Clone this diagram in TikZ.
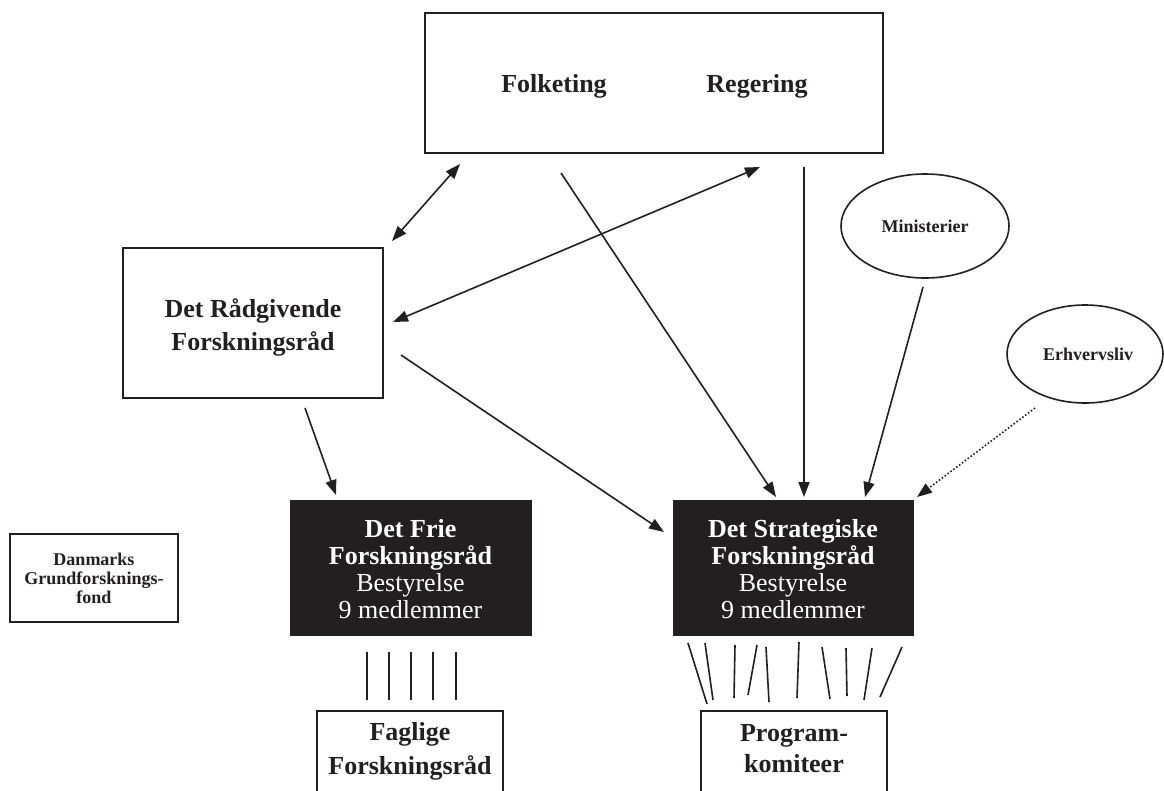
\documentclass[tikz,border=0pt]{standalone}
\usepackage{fontspec}
\setmainfont{Liberation Serif}
\usetikzlibrary{arrows.meta,shapes.geometric}
\definecolor{ink}{HTML}{231F20}
\begin{document}
\begin{tikzpicture}[x=1pt,y=-1pt,
  box/.style={draw=ink,line width=1.6pt,inner sep=0pt,rectangle},
  dark/.style={fill=ink,draw=ink,inner sep=0pt,rectangle},
  big/.style={font=\fontsize{26}{33}\selectfont\bfseries,text=ink,align=center,inner sep=0pt},
  small/.style={font=\fontsize{18}{19}\selectfont\bfseries,text=ink,align=center,inner sep=0pt},
  oval/.style={draw=ink,line width=1.6pt,ellipse,inner sep=0pt},
  arr/.style={draw=ink,line width=1.6pt,-{Triangle[length=15pt,width=11pt]}},
  darr/.style={draw=ink,line width=1.6pt,{Triangle[length=15pt,width=11pt]}-{Triangle[length=15pt,width=11pt]}},
  tick/.style={draw=ink,line width=1.6pt}
]
\useasboundingbox (0,0) rectangle (1164,790);
\clip (0,0) rectangle (1164,790);
\fill[white] (0,0) rectangle (1164,790);

% boxes
\node[box,minimum width=458pt,minimum height=140pt] (top) at (654,83) {};
\node[big] (folk) at (554,86) {Folketing};
\node[big] (reg) at (757,86) {Regering};

\node[box,minimum width=260pt,minimum height=150pt] (raad) at (253,323) {};
\node[big] at (253,327) {Det Rådgivende\\Forskningsråd};

\node[oval,minimum width=168pt,minimum height=104pt] (min) at (925,226) {};
\node[small] at (925,226) {Ministerier};
\node[oval,minimum width=156pt,minimum height=98pt] (erh) at (1085,354) {};
\node[small] at (1088,354) {Erhvervsliv};

\node[dark,minimum width=241pt,minimum height=135pt] (frie) at (410.5,567.5) {};
\node[big,text=white,font=\fontsize{26}{27}\selectfont] at (410.5,569) {\textbf{Det Frie}\\\textbf{Forskningsråd}\\Bestyrelse\\9 medlemmer};

\node[dark,minimum width=240pt,minimum height=135pt] (strat) at (793,567.5) {};
\node[big,text=white,font=\fontsize{26}{27}\selectfont] at (793,569) {\textbf{Det Strategiske}\\\textbf{Forskningsråd}\\Bestyrelse\\9 medlemmer};

\node[box,minimum width=168pt,minimum height=88pt] (dgf) at (94,578) {};
\node[small] at (94,578) {Danmarks\\Grundforsknings-\\fond};

\node[box,minimum width=186pt,minimum height=100pt] (fag) at (410,761) {};
\node[big,font=\fontsize{26}{34}\selectfont\bfseries] at (410,751) {Faglige\\Forskningsråd};

\node[box,minimum width=186pt,minimum height=100pt] (prog) at (794,761) {};
\node[big,font=\fontsize{26}{31}\selectfont\bfseries] at (794,749) {Program-\\komiteer};

% connector end points
\coordinate (a1) at (392,241); \coordinate (a2) at (460,164);
\coordinate (b1) at (393,322); \coordinate (b2) at (760,167);
\coordinate (c1) at (561,173); \coordinate (c2) at (776,497);
\coordinate (d1) at (804,167); \coordinate (d2) at (804,497);
\coordinate (e1) at (923,287); \coordinate (e2) at (865,497);
\coordinate (f1) at (1035,408); \coordinate (f2) at (917,497);
\coordinate (g1) at (305,408); \coordinate (g2) at (336,495);
\coordinate (h1) at (401,355); \coordinate (h2) at (664,532);

\draw[darr] (a1) -- (a2);
\draw[darr] (b1) -- (b2);
\draw[arr] (c1) -- (c2);
\draw[arr] (d1) -- (d2);
\draw[arr] (e1) -- (e2);
\draw[draw=ink,line width=1.6pt,dotted,-{Triangle[length=15pt,width=11pt]}] (f1) -- (f2);
\draw[arr] (g1) -- (g2);
\draw[arr] (h1) -- (h2);

% ticks under Det Frie Forskningsraad
\foreach \x in {367,389,411,433,456}
  \draw[tick] (\x,652) -- (\x,700);

% ticks under Det Strategiske Forskningsraad
\draw[tick] (688,643) -- (707,704);
\draw[tick] (705,643) -- (713,700);
\draw[tick] (735,645) -- (734,698);
\draw[tick] (757,645) -- (748,695);
\draw[tick] (766,647) -- (769,702);
\draw[tick] (799,642) -- (797,698);
\draw[tick] (822,647) -- (830,699);
\draw[tick] (846,648) -- (847,696);
\draw[tick] (872,648) -- (864,700);
\draw[tick] (902,647) -- (880,697);
\end{tikzpicture}
\end{document}
